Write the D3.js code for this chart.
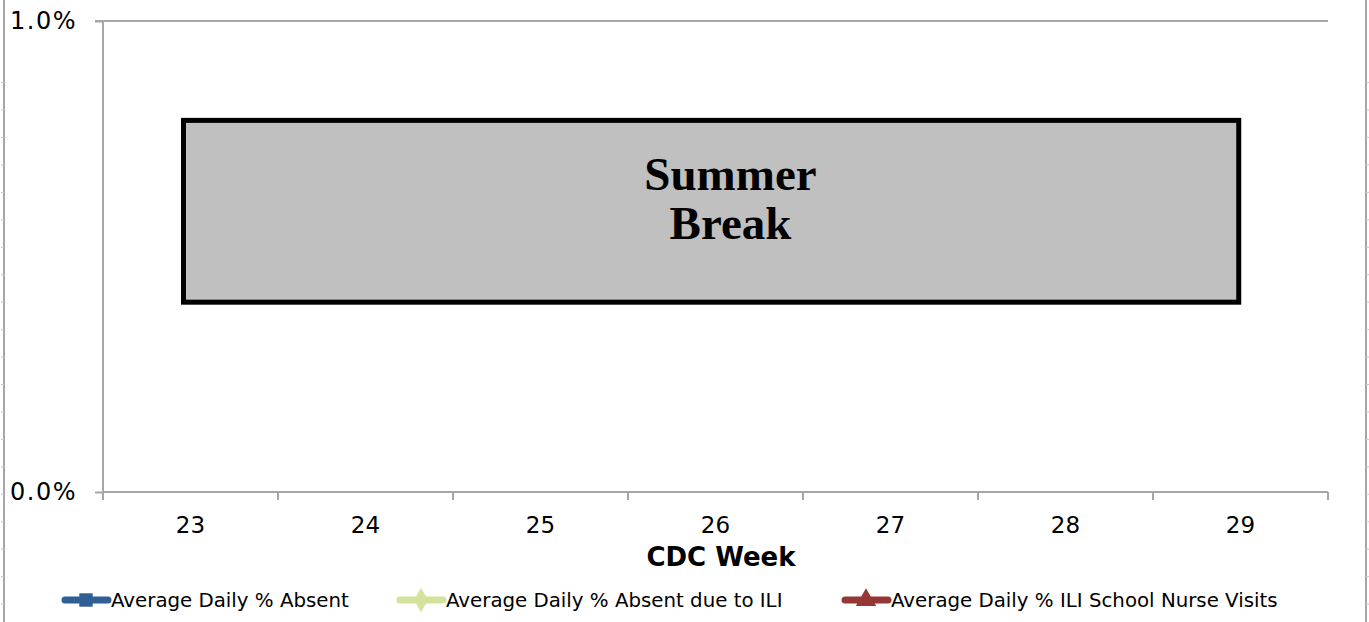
<!DOCTYPE html>
<html>
  <head>
    <meta charset="utf-8">
    <title>CDC Week - Summer Break</title>
    <script src="https://d3js.org/d3.v7.min.js" type="text/javascript"></script>
    <style>
      body { margin: 0; background: #fff; }
      svg { display: block; }
    </style>
  </head>
  <body>
    <script>
      // chart data
      var weeks = [23, 24, 25, 26, 27, 28, 29];
      var yTicks = [0, 1.0];
      // no school data during summer break
      var pctAbsent = [null, null, null, null, null, null, null];
      var pctAbsentILI = [null, null, null, null, null, null, null];
      var pctNurseILI = [null, null, null, null, null, null, null];
      var seriesNames = ["Average Daily % Absent", "Average Daily % Absent due to ILI", "Average Daily % ILI School Nurse Visits"];
      var seriesColors = ["#2f5f95", "#d3e29c", "#953735"];
      // summer break shading, in week / percent units
      var breakWeeks = [22.96, 28.99];
      var breakPct = [0.403, 0.789];
      var breakLabel = ["Summer", "Break"];

      var w = 1369, h = 622;
      var svg = d3.select("body").append("svg")
                  .attr("width", w)
                  .attr("height", h);

      var x = d3.scaleLinear().domain([22.5, 29.5]).range([103, 1328]);
      var y = d3.scaleLinear().domain([0, 1.0]).range([492, 21]);
      var axisCol = "#a6a6a6";

      // page edge rulers (left and right)
      var rulerTicks = d3.range(-1, 23).map(function(i) { return 110 + i * 27.45; });
      svg.append("line").attr("x1", 4).attr("x2", 4).attr("y1", 0).attr("y2", h)
         .attr("stroke", axisCol).attr("stroke-width", 2);
      svg.selectAll(".rl").data(rulerTicks).enter().append("line")
         .attr("x1", 1).attr("x2", 4).attr("y1", function(d) { return d; }).attr("y2", function(d) { return d; })
         .attr("stroke", "#c8c8c8").attr("stroke-width", 1);
      svg.append("line").attr("x1", 1366).attr("x2", 1366).attr("y1", 0).attr("y2", h)
         .attr("stroke", axisCol).attr("stroke-width", 2);
      svg.selectAll(".rr").data(rulerTicks).enter().append("line")
         .attr("x1", 1366).attr("x2", 1369).attr("y1", function(d) { return d; }).attr("y2", function(d) { return d; })
         .attr("stroke", "#c8c8c8").attr("stroke-width", 1);

      // gridline at top value
      svg.append("line")
         .attr("x1", 95).attr("x2", x(29.5))
         .attr("y1", y(1.0)).attr("y2", y(1.0))
         .attr("stroke", axisCol).attr("stroke-width", 2);

      // y axis
      var yAxis = d3.axisLeft(y).tickValues(yTicks).tickSize(8).tickPadding(18)
                    .tickFormat(function(d) { return d3.format(".1f")(d) + "%"; });
      var gy = svg.append("g").attr("transform", "translate(103,0)").call(yAxis);
      gy.select(".domain").attr("stroke", axisCol).attr("stroke-width", 2)
        .attr("d", "M0," + y(1.0) + "V" + y(0));
      gy.selectAll(".tick line").attr("stroke", axisCol).attr("stroke-width", 2);
      gy.selectAll(".tick text")
        .style("font-family", "DejaVu Sans, Verdana, sans-serif")
        .style("font-size", "24px")
        .style("letter-spacing", "1.5px")
        .attr("fill", "#000");

      // x axis: ticks between categories, labels at centres
      var bounds = d3.range(22.5, 30, 1);
      var gx = svg.append("g").attr("transform", "translate(0," + y(0) + ")");
      gx.append("line").attr("x1", x(22.5)).attr("x2", x(29.5))
        .attr("stroke", axisCol).attr("stroke-width", 2);
      gx.selectAll(".xt").data(bounds).enter().append("line")
        .attr("x1", function(d) { return x(d); }).attr("x2", function(d) { return x(d); })
        .attr("y1", 0).attr("y2", 8)
        .attr("stroke", axisCol).attr("stroke-width", 2);
      gx.selectAll(".xl").data(weeks).enter().append("text")
        .attr("x", function(d) { return x(d); })
        .attr("y", 41)
        .attr("text-anchor", "middle")
        .style("font-family", "DejaVu Sans, Verdana, sans-serif")
        .style("font-size", "23px")
        .text(function(d) { return d; });

      svg.append("text")
         .attr("x", 721).attr("y", 566)
         .attr("text-anchor", "middle")
         .style("font-family", "DejaVu Sans, Verdana, sans-serif")
         .style("font-size", "26px")
         .style("font-weight", "bold")
         .text("CDC Week");

      // series lines (empty during break)
      var line = d3.line()
                   .defined(function(d) { return d.v != null; })
                   .x(function(d) { return x(d.wk); })
                   .y(function(d) { return y(d.v); });
      [pctAbsent, pctAbsentILI, pctNurseILI].forEach(function(vals, i) {
        var pts = weeks.map(function(wk, j) { return { wk: wk, v: vals[j] }; });
        svg.append("path").datum(pts)
           .attr("d", line)
           .attr("fill", "none")
           .attr("stroke", seriesColors[i])
           .attr("stroke-width", 4);
      });

      // summer break box
      svg.append("rect")
         .attr("x", x(breakWeeks[0]))
         .attr("y", y(breakPct[1]))
         .attr("width", x(breakWeeks[1]) - x(breakWeeks[0]))
         .attr("height", y(breakPct[0]) - y(breakPct[1]))
         .attr("fill", "#c0c0c0")
         .attr("stroke", "#000")
         .attr("stroke-width", 5);
      svg.append("text")
         .attr("x", 730.5).attr("y", 190)
         .attr("text-anchor", "middle")
         .style("font-family", "Liberation Serif, Times New Roman, serif")
         .style("font-size", "47px")
         .style("font-weight", "bold")
         .selectAll("tspan").data(breakLabel).enter().append("tspan")
         .attr("x", 730.5)
         .attr("dy", function(d, i) { return i === 0 ? 0 : 49; })
         .text(function(d) { return d; });

      // legend
      var legendX = [62, 397, 842];
      var shapes = [d3.symbolSquare, d3.symbolDiamond, d3.symbolTriangle];
      var lg = svg.selectAll(".legend").data(seriesNames).enter().append("g")
                  .attr("transform", function(d, i) { return "translate(" + legendX[i] + ",600)"; });
      lg.append("line")
        .attr("x1", 3).attr("x2", 46)
        .attr("stroke", function(d, i) { return seriesColors[i]; })
        .attr("stroke-width", 7)
        .attr("stroke-linecap", "round");
      lg.append("path")
        .attr("transform", "translate(24,0)")
        .attr("d", function(d, i) { return d3.symbol().type(shapes[i]).size(i === 1 ? 170 : 180)(); })
        .attr("fill", function(d, i) { return seriesColors[i]; });
      lg.append("text")
        .attr("x", 49).attr("y", 7)
        .style("font-family", "DejaVu Sans, Tahoma, sans-serif")
        .style("font-size", "19.8px")
        .text(function(d) { return d; });
    </script>
  </body>
</html>
